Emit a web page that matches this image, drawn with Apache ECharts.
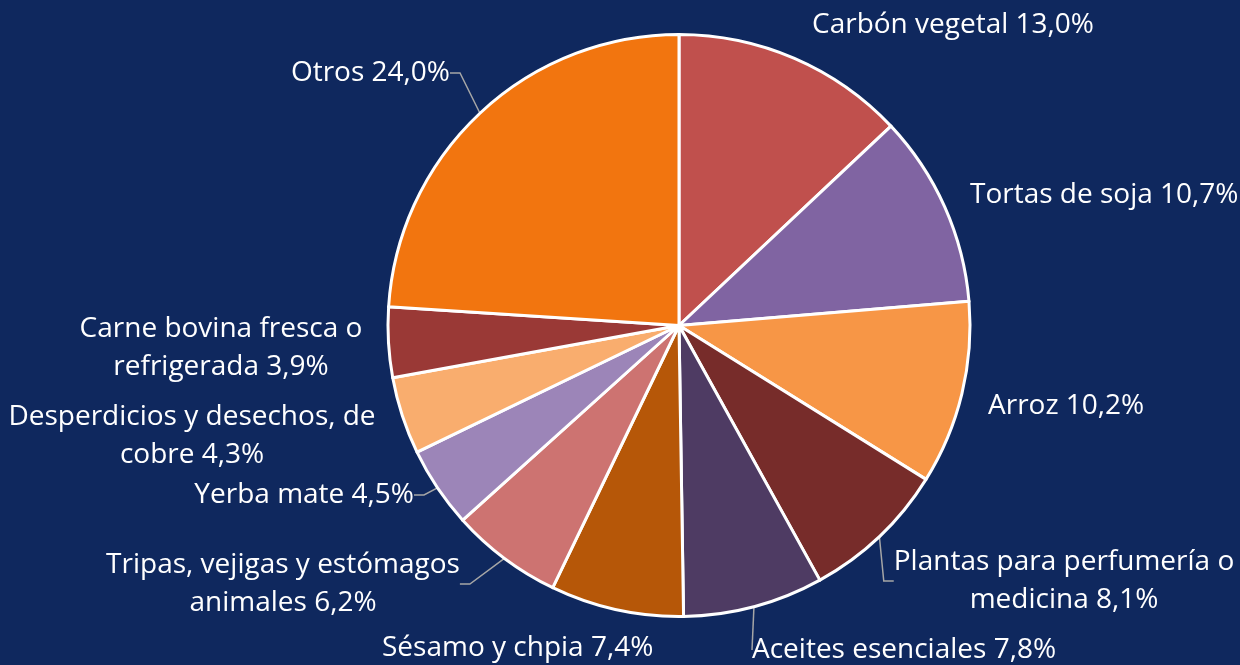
<!DOCTYPE html>
<html>
<head>
<meta charset="utf-8">
<script src="https://cdn.jsdelivr.net/npm/echarts@6/dist/echarts.min.js"></script>
<style>
html,body{margin:0;padding:0;background:#0f285e;}
#c{width:1240px;height:665px;}
</style>
</head>
<body>
<div id="c"></div>
<script>
// ---- data ----
const categories = [
  'Carbón vegetal',
  'Tortas de soja',
  'Arroz',
  'Plantas para perfumería o medicina',
  'Aceites esenciales',
  'Sésamo y chpia',
  'Tripas, vejigas y estómagos animales',
  'Yerba mate',
  'Desperdicios y desechos, de cobre',
  'Carne bovina fresca o refrigerada',
  'Otros'
];
const shares = [13.0, 10.7, 10.2, 8.1, 7.8, 7.4, 6.2, 4.5, 4.3, 3.9, 24.0];
const colors = ['#C0504D','#8064A2','#F79646','#772C2A','#4E3B63','#B65708','#CD7371','#9C85B8','#F9AD6E','#9A3936','#F2750F'];

// ---- label styling / layout (not data) ----
const labelPos = [
  {x:812,  y:25,  align:'left',   brk:0, line:false},
  {x:970,  y:195, align:'left',   brk:0, line:false},
  {x:988,  y:406, align:'left',   brk:0, line:false},
  {x:1064, y:581, align:'center', brk:4, line:true},
  {x:752,  y:650, align:'left',   brk:0, line:true},
  {x:382,  y:648, align:'left',   brk:0, line:false},
  {x:283,  y:584, align:'center', brk:4, line:true},
  {x:414,  y:495, align:'right',  brk:0, line:true},
  {x:192,  y:436, align:'center', brk:4, line:false},
  {x:221,  y:348, align:'center', brk:4, line:false},
  {x:450,  y:73,  align:'right',  brk:0, line:true}
];

function labelText(i){
  const txt = categories[i] + ' ' + shares[i].toFixed(1).replace('.', ',') + '%';
  const b = labelPos[i].brk;
  if (!b) return txt;
  const w = txt.split(' ');
  return w.slice(0,b).join(' ') + '\n' + w.slice(b).join(' ');
}

const chart = echarts.init(document.getElementById('c'));
chart.setOption({
  backgroundColor: '#0f285e',
  animation: false,
  series: [{
    type: 'pie',
    center: [679, 325.5],
    radius: [0, 291],
    startAngle: 90,
    clockwise: true,
    avoidLabelOverlap: false,
    data: categories.map((n, i) => ({
      name: n,
      value: shares[i],
      itemStyle: {color: colors[i]},
      labelLine: {show: labelPos[i].line}
    })),
    itemStyle: {borderColor: '#ffffff', borderWidth: 3},
    label: {
      show: true,
      position: 'outside',
      color: '#ffffff',
      fontFamily: 'Open Sans',
      fontSize: 28,
      lineHeight: 38,
      overflow: 'none',
      formatter: p => labelText(p.dataIndex)
    },
    labelLine: {
      show: true,
      length: 10,
      length2: 10,
      lineStyle: {color: '#a6a6a6', width: 1.5}
    },
    labelLayout: function (p) {
      const L = labelPos[p.dataIndex];
      return {x: L.x, y: L.y, align: L.align, verticalAlign: 'middle'};
    }
  }]
});
</script>
</body>
</html>
